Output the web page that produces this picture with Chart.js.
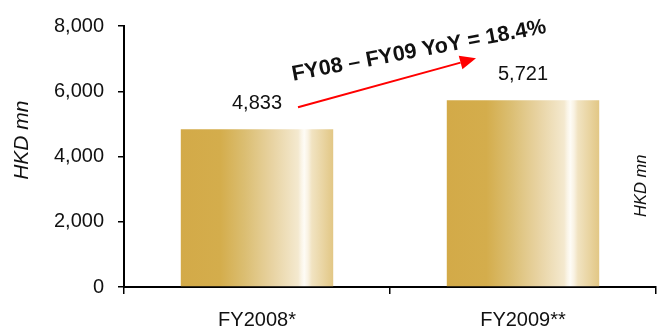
<!DOCTYPE html>
<html>
<head>
<meta charset="utf-8">
<script src="https://cdn.jsdelivr.net/npm/chart.js@4/dist/chart.umd.min.js"></script>
<style>
  html, body { margin: 0; padding: 0; background: #ffffff; }
  #wrap { width: 657px; height: 331px; position: relative; }
</style>
</head>
<body>
<div id="wrap"><canvas id="c" width="657" height="331"></canvas></div>
<script>
// Revenue by financial year
const categories = ['FY2008*', 'FY2009**'];
const revenue = [4833, 5721];
const yTicks = [0, 2000, 4000, 6000, 8000];
const unitLabel = 'HKD mn';

const FONT = "'Liberation Sans', Arial, Helvetica, sans-serif";
const CAT_PCT = 0.573;

// gold bar with a light sheen towards the right edge
function barFill(ctx) {
  const chart = ctx.chart;
  if (!chart.chartArea || ctx.type !== 'data') return '#D4AC4A';
  const xs = chart.scales.x;
  const cx = xs.getPixelForValue(ctx.dataIndex);
  const w = (xs.width / categories.length) * CAT_PCT;
  const g = chart.ctx.createLinearGradient(cx - w / 2, 0, cx + w / 2, 0);
  g.addColorStop(0.00, '#D3AA48');
  g.addColorStop(0.26, '#D4AD4C');
  g.addColorStop(0.42, '#DBBE72');
  g.addColorStop(0.60, '#E8D3A2');
  g.addColorStop(0.77, '#F4E9CF');
  g.addColorStop(0.79, '#FAF4E6');
  g.addColorStop(0.81, '#FEFCF6');
  g.addColorStop(0.835, '#F9F2E2');
  g.addColorStop(0.86, '#F1E3C1');
  g.addColorStop(1.00, '#E2C785');
  return g;
}

// value labels above each bar
const valueLabels = {
  id: 'valueLabels',
  afterDatasetsDraw(chart) {
    const c = chart.ctx;
    const meta = chart.getDatasetMeta(0);
    c.save();
    c.font = '20px ' + FONT;
    c.fillStyle = '#111111';
    c.textAlign = 'center';
    c.textBaseline = 'middle';
    meta.data.forEach((bar, i) => {
      c.fillText(revenue[i].toLocaleString('en-US'), bar.x, bar.y - 26);
    });
    c.restore();
  }
};

// growth arrow between the two value labels, the rotated unit captions
const growthNote = {
  id: 'growthNote',
  afterDatasetsDraw(chart) {
    const c = chart.ctx;
    const meta = chart.getDatasetMeta(0);
    const a = meta.data[0], b = meta.data[1];
    const x0 = a.x + 41, y0 = a.y - 22;
    const x1 = b.x - 47, y1 = b.y - 42;
    const ang = Math.atan2(y1 - y0, x1 - x0);
    const head = 16, half = 7;
    const bx = x1 - head * Math.cos(ang), by = y1 - head * Math.sin(ang);
    c.save();
    c.strokeStyle = '#FF0000';
    c.fillStyle = '#FF0000';
    c.lineWidth = 2;
    c.beginPath();
    c.moveTo(x0, y0);
    c.lineTo(bx, by);
    c.stroke();
    c.beginPath();
    c.moveTo(x1, y1);
    c.lineTo(bx + half * Math.sin(ang), by - half * Math.cos(ang));
    c.lineTo(bx - half * Math.sin(ang), by + half * Math.cos(ang));
    c.closePath();
    c.fill();

    const pct = ((revenue[1] / revenue[0] - 1) * 100).toFixed(1);
    c.translate((x0 + x1) / 2 + 32, (y0 + y1) / 2 - 32);
    c.rotate(-10.7 * Math.PI / 180);
    c.font = 'bold 21.5px ' + FONT;
    c.fillStyle = '#111111';
    c.textAlign = 'center';
    c.textBaseline = 'middle';
    c.fillText('FY08 \u2013 FY09 YoY = ' + pct + '%', 0, 0);
    c.restore();

    const ys = chart.scales.y;
    // left axis caption
    c.save();
    c.translate(22, ys.getPixelForValue(4500));
    c.rotate(-Math.PI / 2);
    c.font = 'italic 21px ' + FONT;
    c.fillStyle = '#111111';
    c.textAlign = 'center';
    c.textBaseline = 'middle';
    c.fillText(unitLabel, 0, 0);
    c.restore();

    // right-hand caption
    c.save();
    c.translate(chart.chartArea.right - 15, ys.getPixelForValue(3100));
    c.rotate(-Math.PI / 2);
    c.font = 'italic 16.5px ' + FONT;
    c.fillStyle = '#111111';
    c.textAlign = 'center';
    c.textBaseline = 'middle';
    c.fillText(unitLabel, 0, 0);
    c.restore();
  }
};

new Chart(document.getElementById('c'), {
  type: 'bar',
  data: {
    labels: categories,
    datasets: [{
      data: revenue,
      backgroundColor: barFill,
      borderWidth: 0,
      categoryPercentage: CAT_PCT,
      barPercentage: 1
    }]
  },
  options: {
    responsive: false,
    animation: false,
    devicePixelRatio: 1,
    layout: { padding: { top: 24, right: 1, bottom: 0, left: 0 } },
    plugins: { legend: { display: false }, tooltip: { enabled: false } },
    scales: {
      x: {
        afterFit(s) { s.height = 44; },
        border: { display: true, color: '#000000', width: 2 },
        grid: { display: true, drawOnChartArea: false, drawTicks: true, tickLength: 7, color: '#000000', lineWidth: 1.5, offset: true },
        ticks: { color: '#111111', font: { family: FONT, size: 20 }, padding: 14 }
      },
      y: {
        min: 0,
        max: 8000,
        afterFit(s) { s.width = 124; },
        afterBuildTicks(s) { s.ticks = yTicks.map(v => ({ value: v })); },
        border: { display: true, color: '#000000', width: 2 },
        grid: { display: true, drawOnChartArea: false, drawTicks: true, tickLength: 6, color: '#000000', lineWidth: 1.5 },
        ticks: {
          color: '#111111',
          font: { family: FONT, size: 20 },
          padding: 14,
          callback: v => v.toLocaleString('en-US')
        }
      }
    }
  },
  plugins: [valueLabels, growthNote]
});
</script>
</body>
</html>
